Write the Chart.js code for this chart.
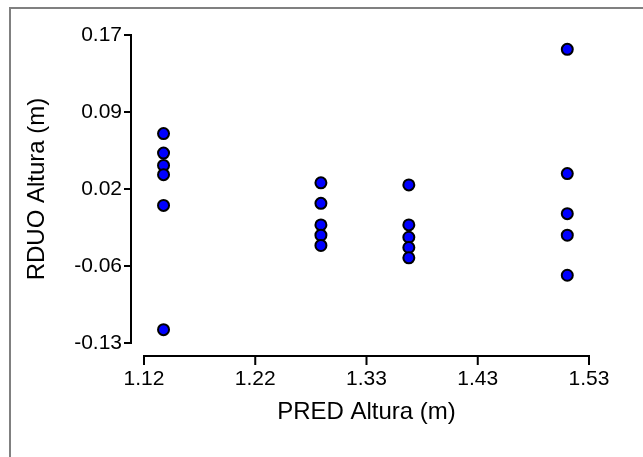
<!DOCTYPE html>
<html>
<head>
<meta charset="utf-8">
<script src="https://cdn.jsdelivr.net/npm/chart.js@4"></script>
<style>
  body { margin: 0; background: #fff; }
  canvas { display: block; }
</style>
</head>
<body>
<canvas id="chart" width="643" height="457"></canvas>
<script>
// Dados
var predAltura = [1.138, 1.138, 1.138, 1.138, 1.138, 1.138,
                  1.283, 1.283, 1.283, 1.283, 1.283,
                  1.364, 1.364, 1.364, 1.364, 1.364,
                  1.510, 1.510, 1.510, 1.510, 1.510]
var rduoAltura = [0.074, 0.055, 0.043, 0.034, 0.004, -0.117,
                  0.026, 0.006, -0.015, -0.025, -0.035,
                  0.024, -0.015, -0.027, -0.037, -0.047,
                  0.156, 0.035, -0.004, -0.025, -0.064]

// Marcas dos eixos
var xTicks = [1.12, 1.2225, 1.325, 1.4275, 1.53]
var xLabels = ['1.12', '1.22', '1.33', '1.43', '1.53']
var yTicks = [-0.13, -0.055, 0.02, 0.095, 0.17]
var yLabels = ['-0.13', '-0.06', '0.02', '0.09', '0.17']

var fontFamily = "'Liberation Sans', Arial, sans-serif"

// Moldura cinza + eixos deslocados (estilo Prism)
var axesPlugin = {
  id: 'axes',
  beforeDraw: function (chart) {
    var ctx = chart.ctx
    ctx.save()
    ctx.fillStyle = '#808080'
    ctx.fillRect(9, 7, 2, chart.height)
    ctx.fillRect(9, 7, chart.width, 2)
    ctx.restore()
  },
  afterDraw: function (chart) {
    var ctx = chart.ctx
    var xs = chart.scales.x
    var ys = chart.scales.y
    var ax = xs.left - 13
    var ay = ys.bottom + 13
    ctx.save()
    ctx.strokeStyle = '#000'
    ctx.lineWidth = 2
    ctx.lineCap = 'square'
    ctx.beginPath()
    ctx.moveTo(ax, ys.getPixelForValue(yTicks[yTicks.length - 1]))
    ctx.lineTo(ax, ys.getPixelForValue(yTicks[0]))
    yTicks.forEach(function (v) {
      var py = ys.getPixelForValue(v)
      ctx.moveTo(ax - 6, py)
      ctx.lineTo(ax, py)
    })
    ctx.moveTo(xs.getPixelForValue(xTicks[0]), ay)
    ctx.lineTo(xs.getPixelForValue(xTicks[xTicks.length - 1]), ay)
    xTicks.forEach(function (v) {
      var px = xs.getPixelForValue(v)
      ctx.moveTo(px, ay)
      ctx.lineTo(px, ay + 8)
    })
    ctx.stroke()
    ctx.restore()
  }
}

var points = predAltura.map(function (x, i) {
  return { x: x, y: rduoAltura[i] }
})

new Chart(document.getElementById('chart'), {
  type: 'scatter',
  data: {
    datasets: [{
      data: points,
      backgroundColor: '#0000ff',
      borderColor: '#000',
      borderWidth: 2,
      pointRadius: 5.5,
      pointHoverRadius: 5.5
    }]
  },
  options: {
    responsive: false,
    animation: false,
    devicePixelRatio: 1,
    layout: { padding: { top: 35, right: 54, left: 0, bottom: 0 } },
    plugins: {
      legend: { display: false },
      tooltip: { enabled: false }
    },
    scales: {
      x: {
        type: 'linear',
        min: xTicks[0],
        max: xTicks[xTicks.length - 1],
        afterBuildTicks: function (scale) {
          scale.ticks = xTicks.map(function (v) { return { value: v } })
        },
        afterFit: function (scale) { scale.height = 114 },
        grid: { display: false, drawTicks: false },
        border: { display: false },
        ticks: {
          padding: 24,
          color: '#000',
          font: { family: fontFamily, size: 21 },
          callback: function (v, i) { return xLabels[i] }
        },
        title: {
          display: true,
          text: 'PRED Altura (m)',
          color: '#000',
          font: { family: fontFamily, size: 24 },
          padding: { top: 0, bottom: 30 }
        }
      },
      y: {
        type: 'linear',
        min: yTicks[0],
        max: yTicks[yTicks.length - 1],
        afterBuildTicks: function (scale) {
          scale.ticks = yTicks.map(function (v) { return { value: v } })
        },
        afterFit: function (scale) { scale.width = 144 },
        grid: { display: false, drawTicks: false },
        border: { display: false },
        ticks: {
          padding: 22,
          color: '#000',
          font: { family: fontFamily, size: 21 },
          callback: function (v, i) { return yLabels[i] }
        },
        title: {
          display: true,
          text: 'RDUO Altura (m)',
          color: '#000',
          font: { family: fontFamily, size: 24 },
          padding: { top: 23, bottom: 0 }
        }
      }
    }
  },
  plugins: [axesPlugin]
})
</script>
</body>
</html>
